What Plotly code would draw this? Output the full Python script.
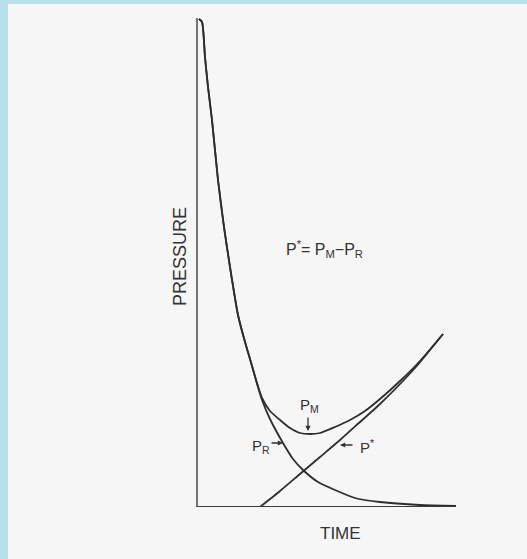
import plotly.graph_objects as go

# Values (time and pressure in arbitrary units)
pr_time = [0.3, 0.6, 0.9, 1.2, 1.6, 2.2, 2.8, 3.4, 4.2, 4.9, 5.4, 6.0, 6.6, 7.4,
           8.7, 9.7, 10.7, 12.2, 13.9, 15.9, 18.4, 22.4, 26.0]
pr_pressure = [48.8, 48.5, 45.0, 42.0, 38.7, 32.7, 28.0, 24.0, 19.2, 16.5, 14.8, 12.7,
               10.7, 8.8, 6.4, 4.8, 3.7, 2.5, 1.7, 0.9, 0.5, 0.2, 0.1]

pstar_time = [6.4, 8.4, 10.4, 12.4, 14.4, 16.4, 18.4, 21.9, 24.7]
pstar_pressure = [0.0, 1.6, 3.3, 5.0, 6.7, 8.5, 10.3, 13.9, 17.3]

pm_time = [0.3, 0.6, 0.9, 1.2, 1.6, 2.2, 2.8, 3.4, 4.2, 4.9, 5.4, 6.0, 6.6, 7.4, 8.4,
           9.4, 10.4, 11.4, 12.4, 13.9, 15.4, 16.9, 18.4, 20.4, 22.4, 24.7]
pm_pressure = [48.8, 48.5, 45.0, 42.0, 38.7, 32.7, 28.0, 24.0, 19.2, 16.5, 14.8, 12.7,
               10.9, 9.6, 8.7, 7.9, 7.4, 7.3, 7.4, 8.0, 8.7, 9.6, 10.8, 12.6, 14.6, 17.3]

x_label = "TIME"
y_label = "PRESSURE"
equation = "P<sup>*</sup>= P<sub>M</sub>−P<sub>R</sub>"

line_color = "#2e2e2e"
font_fam = "Liberation Sans, Arial, sans-serif"

fig = go.Figure()
for tx, py in [(pm_time, pm_pressure), (pr_time, pr_pressure), (pstar_time, pstar_pressure)]:
    fig.add_trace(go.Scatter(x=tx, y=py, mode="lines",
                             line=dict(color=line_color, width=1.8, shape="spline", smoothing=0.6),
                             showlegend=False, hoverinfo="skip"))

XMAX, YMAX = 26.0, 48.9
L, R, T, B = 196, 71, 18, 52
W, H = 527, 559
pw, ph = W - L - R, H - T - B

def px2paper_x(px):
    return (px - L) / pw

def px2paper_y(py):
    return (H - B - py) / ph

shapes = [
    # blue frame at the top and left
    dict(type="rect", xref="paper", yref="paper", x0=px2paper_x(0), x1=px2paper_x(W),
         y0=px2paper_y(H), y1=px2paper_y(0), fillcolor="#b9e0eb", line=dict(width=0), layer="below"),
    dict(type="rect", xref="paper", yref="paper", x0=px2paper_x(8), x1=px2paper_x(W + 2),
         y0=px2paper_y(H + 2), y1=px2paper_y(4), fillcolor="#f5f6f5", line=dict(width=0), layer="below"),
    # axes
    dict(type="line", xref="x", yref="y", x0=-0.2, x1=XMAX, y0=0, y1=0,
         line=dict(color="#3a3a3a", width=1.8)),
    dict(type="line", xref="x", yref="y", x0=0.1, x1=0.1, y0=0, y1=YMAX,
         line=dict(color="#555555", width=1.6)),
]

def label(px, py, text, size, angle=0):
    return dict(x=px2paper_x(px), y=px2paper_y(py), xref="paper", yref="paper", text=text,
                showarrow=False, textangle=angle, xanchor="center", yanchor="middle",
                font=dict(family=font_fam, size=size, color="#333333"))

def arrow(px, py, ax, ay):
    return dict(x=px2paper_x(px), y=px2paper_y(py), xref="paper", yref="paper", text="",
                showarrow=True, ax=ax, ay=ay, arrowhead=2, arrowsize=0.8, arrowwidth=1.3,
                arrowcolor="#333333")

annotations = [
    label(180, 257, y_label, 18, -90),
    label(340, 533, x_label, 17),
    label(324, 249, equation, 16),
    label(309, 405, "P<sub>M</sub>", 15),
    label(261, 446, "P<sub>R</sub>", 15),
    label(367, 446, "P<sup>*</sup>", 15),
    arrow(308, 431, 0, -15),
    arrow(283, 443, -13, 0),
    arrow(340, 445, 14, 0),
]

fig.update_layout(
    width=W, height=H, autosize=False,
    margin=dict(l=L, r=R, t=T, b=B, pad=0),
    paper_bgcolor="#f5f6f5", plot_bgcolor="rgba(0,0,0,0)",
    xaxis=dict(range=[0, XMAX], visible=False, fixedrange=True),
    yaxis=dict(range=[0, YMAX], visible=False, fixedrange=True),
    shapes=shapes, annotations=annotations,
)

fig.write_html("out.html")
